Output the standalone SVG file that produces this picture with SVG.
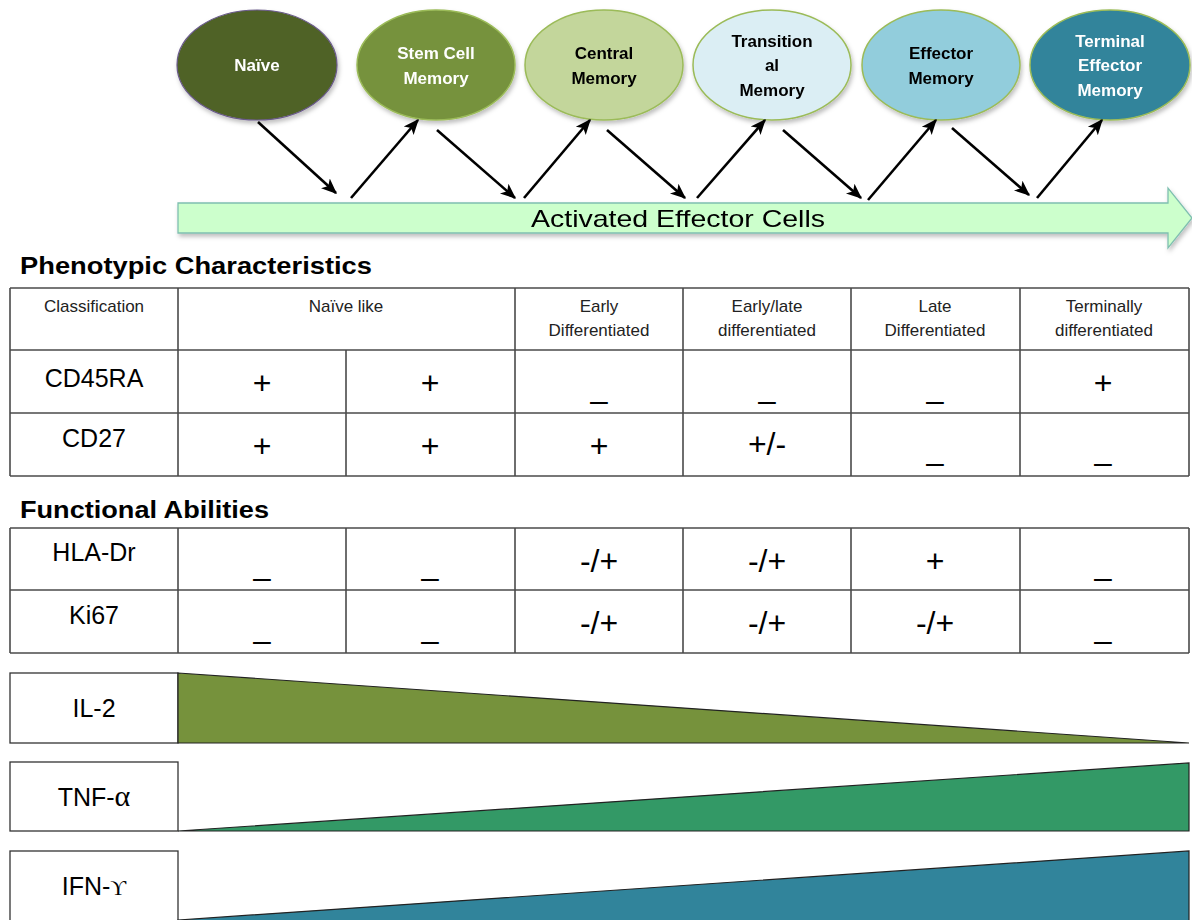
<svg xmlns="http://www.w3.org/2000/svg" width="1192" height="920" viewBox="0 0 1192 920">
  <defs>
    <style>
      .node-label { font-family: "Liberation Sans", Arial, sans-serif; font-weight: bold; font-size: 17px; text-anchor: middle; }
      .light { fill: #ffffff; }
      .dark { fill: #000000; }
      .cell { font-family: "Liberation Sans", Arial, sans-serif; fill: #222; text-anchor: middle; }
      .hdr { font-size: 17px; }
      .rowlab { font-size: 25px; fill: #000; }
      .val { font-size: 32px; fill: #000; }
      .heading { font-family: "Liberation Sans", Arial, sans-serif; font-weight: bold; font-size: 23px; fill: #000; }
      .grid line { stroke: #4a4a4a; stroke-width: 1.6; }
      .conn line { stroke: #000; stroke-width: 2.6; marker-end: url(#head); }
      .ell { stroke: #9bbb59; stroke-width: 1.5; }
      .box { fill: #fff; stroke: #333; stroke-width: 1.3; }
      .wedge { stroke: #222; stroke-width: 1.2; }
    </style>
    <marker id="head" viewBox="0 0 12 10" refX="11" refY="5" markerWidth="6" markerHeight="6" markerUnits="strokeWidth" orient="auto">
      <path d="M0,0 L12,5 L0,10 L3,5 Z" fill="#000"/>
    </marker>
    <filter id="shadow" x="-10%" y="-20%" width="120%" height="150%">
      <feDropShadow dx="1.5" dy="3" stdDeviation="2" flood-color="#000" flood-opacity="0.25"/>
    </filter>
  </defs>

  <!-- Differentiation stages -->
  <g id="naive" filter="url(#shadow)">
    <ellipse cx="257" cy="65" rx="80" ry="55" fill="#4f6228" stroke="#6a5a8a" stroke-width="1.2"/>
    <text class="node-label light" x="257" y="71">Naïve</text>
  </g>
  <g id="stem-cell-memory" filter="url(#shadow)">
    <ellipse class="ell" cx="436" cy="65" rx="79" ry="55" fill="#76923c"/>
    <text class="node-label light" x="436" y="59">Stem Cell</text>
    <text class="node-label light" x="436" y="84">Memory</text>
  </g>
  <g id="central-memory" filter="url(#shadow)">
    <ellipse class="ell" cx="604" cy="65" rx="79" ry="55" fill="#c3d69b"/>
    <text class="node-label dark" x="604" y="59">Central</text>
    <text class="node-label dark" x="604" y="84">Memory</text>
  </g>
  <g id="transitional-memory" filter="url(#shadow)">
    <ellipse class="ell" cx="772" cy="65" rx="79" ry="55" fill="#dbeef4"/>
    <text class="node-label dark" x="772" y="47">Transition</text>
    <text class="node-label dark" x="772" y="71">al</text>
    <text class="node-label dark" x="772" y="96">Memory</text>
  </g>
  <g id="effector-memory" filter="url(#shadow)">
    <ellipse class="ell" cx="941" cy="65" rx="79" ry="55" fill="#92cddc"/>
    <text class="node-label dark" x="941" y="59">Effector</text>
    <text class="node-label dark" x="941" y="84">Memory</text>
  </g>
  <g id="terminal-effector-memory" filter="url(#shadow)">
    <ellipse class="ell" cx="1110" cy="65" rx="80" ry="55" fill="#31849b"/>
    <text class="node-label light" x="1110" y="47">Terminal</text>
    <text class="node-label light" x="1110" y="71">Effector</text>
    <text class="node-label light" x="1110" y="96">Memory</text>
  </g>

  <!-- Activated effector cells band -->
  <g id="activated-effector-cells" filter="url(#shadow)">
    <path d="M178,203 L1168,203 L1168,188 L1192,218 L1168,248 L1168,233 L178,233 Z" fill="#ccffcc" stroke="#7fbfb0" stroke-width="1.3"/>
    <text x="678" y="227" font-family="'Liberation Sans', Arial, sans-serif" font-size="24" text-anchor="middle" textLength="294" lengthAdjust="spacingAndGlyphs" fill="#000">Activated Effector Cells</text>
  </g>

  <!-- Transitions between stages -->
  <g id="connectors" class="conn">
    <line x1="258" y1="122" x2="336" y2="193"/>
    <line x1="351" y1="198" x2="418" y2="120"/>
    <line x1="437" y1="130" x2="515" y2="198"/>
    <line x1="524" y1="198" x2="590" y2="120"/>
    <line x1="607" y1="130" x2="685" y2="198"/>
    <line x1="697" y1="198" x2="765" y2="120"/>
    <line x1="783" y1="130" x2="861" y2="198"/>
    <line x1="868" y1="200" x2="936" y2="120"/>
    <line x1="952" y1="128" x2="1029" y2="195"/>
    <line x1="1037" y1="198" x2="1102" y2="120"/>
  </g>

  <!-- Phenotypic characteristics table -->
  <text class="heading" x="20" y="274" textLength="352" lengthAdjust="spacingAndGlyphs">Phenotypic  Characteristics</text>
  <g id="phenotype-table">
    <g class="grid">
      <line x1="10" y1="288" x2="1189" y2="288"/>
      <line x1="10" y1="350" x2="1189" y2="350"/>
      <line x1="10" y1="413" x2="1189" y2="413"/>
      <line x1="10" y1="476" x2="1189" y2="476"/>
      <line x1="10" y1="288" x2="10" y2="476"/>
      <line x1="178" y1="288" x2="178" y2="476"/>
      <line x1="346" y1="350" x2="346" y2="476"/>
      <line x1="515" y1="288" x2="515" y2="476"/>
      <line x1="683" y1="288" x2="683" y2="476"/>
      <line x1="851" y1="288" x2="851" y2="476"/>
      <line x1="1020" y1="288" x2="1020" y2="476"/>
      <line x1="1189" y1="288" x2="1189" y2="476"/>
    </g>
    <g class="cell hdr">
      <text x="94" y="312">Classification</text>
      <text x="346" y="312">Naïve like</text>
      <text x="599" y="312">Early</text>
      <text x="599" y="336">Differentiated</text>
      <text x="767" y="312">Early/late</text>
      <text x="767" y="336">differentiated</text>
      <text x="935" y="312">Late</text>
      <text x="935" y="336">Differentiated</text>
      <text x="1104" y="312">Terminally</text>
      <text x="1104" y="336">differentiated</text>
    </g>
    <g class="cell rowlab">
      <text x="94" y="387">CD45RA</text>
      <text x="94" y="447">CD27</text>
    </g>
    <g class="cell val">
      <text x="262" y="394">+</text>
      <text x="430" y="394">+</text>
      <text x="599" y="411">–</text>
      <text x="767" y="411">–</text>
      <text x="935" y="411">–</text>
      <text x="1103" y="394">+</text>
      <text x="262" y="457">+</text>
      <text x="430" y="457">+</text>
      <text x="599" y="457">+</text>
      <text x="767" y="455">+/-</text>
      <text x="935" y="473">–</text>
      <text x="1103" y="473">–</text>
    </g>
  </g>

  <!-- Functional abilities table -->
  <text class="heading" x="20" y="518" textLength="249" lengthAdjust="spacingAndGlyphs">Functional Abilities</text>
  <g id="function-table">
    <g class="grid">
      <line x1="10" y1="528" x2="1189" y2="528"/>
      <line x1="10" y1="590" x2="1189" y2="590"/>
      <line x1="10" y1="653" x2="1189" y2="653"/>
      <line x1="10" y1="528" x2="10" y2="653"/>
      <line x1="178" y1="528" x2="178" y2="653"/>
      <line x1="346" y1="528" x2="346" y2="653"/>
      <line x1="515" y1="528" x2="515" y2="653"/>
      <line x1="683" y1="528" x2="683" y2="653"/>
      <line x1="851" y1="528" x2="851" y2="653"/>
      <line x1="1020" y1="528" x2="1020" y2="653"/>
      <line x1="1189" y1="528" x2="1189" y2="653"/>
    </g>
    <g class="cell rowlab">
      <text x="94" y="561">HLA-Dr</text>
      <text x="94" y="624">Ki67</text>
    </g>
    <g class="cell val">
      <text x="262" y="588">–</text>
      <text x="430" y="588">–</text>
      <text x="599" y="572">-/+</text>
      <text x="767" y="572">-/+</text>
      <text x="935" y="572">+</text>
      <text x="1103" y="588">–</text>
      <text x="262" y="651">–</text>
      <text x="430" y="651">–</text>
      <text x="599" y="634">-/+</text>
      <text x="767" y="634">-/+</text>
      <text x="935" y="634">-/+</text>
      <text x="1103" y="651">–</text>
    </g>
  </g>

  <!-- Cytokine production wedges -->
  <g id="il-2">
    <rect class="box" x="10" y="673" width="168" height="70"/>
    <text class="cell rowlab" x="94" y="717">IL-2</text>
    <path class="wedge" d="M178,673 L1189,743 L178,743 Z" fill="#76923c"/>
  </g>
  <g id="tnf-alpha">
    <rect class="box" x="10" y="762" width="168" height="69"/>
    <text class="cell rowlab" x="94" y="806">TNF-<tspan font-family="'Liberation Serif', serif" font-size="30">α</tspan></text>
    <path class="wedge" d="M178,831 L1189,763 L1189,831 Z" fill="#339966"/>
  </g>
  <g id="ifn-gamma">
    <rect class="box" x="10" y="851" width="168" height="75"/>
    <text class="cell rowlab" x="94" y="895">IFN-<tspan font-family="'Liberation Serif', serif" font-size="22">ϒ</tspan></text>
    <path class="wedge" d="M178,920 L1189,851 L1189,922 L178,922 Z" fill="#31849b"/>
  </g>
</svg>
